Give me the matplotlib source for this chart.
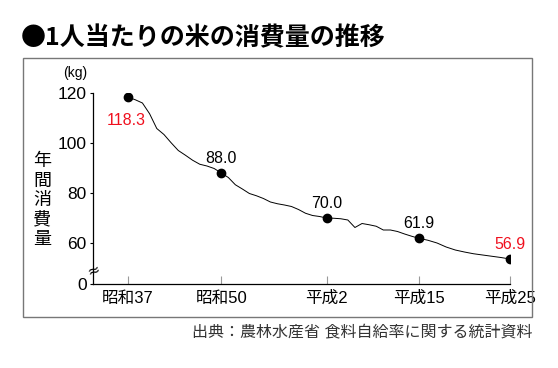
import numpy as np
import matplotlib.pyplot as plt
from matplotlib.patches import Rectangle

# 1人当たりの米の年間消費量 (kg)
years = np.arange(1962, 2014)
rice_kg = [118.3, 117.3, 116.0, 111.7, 105.8, 103.4, 100.1, 97.0, 95.1, 93.1,
           91.5, 90.8, 89.8, 88.0, 86.2, 83.3, 81.6, 79.8, 78.9, 77.8,
           76.4, 75.7, 75.2, 74.6, 73.4, 71.9, 71.0, 70.6, 70.0, 69.9,
           69.7, 69.2, 66.2, 67.8, 67.3, 66.7, 65.2, 65.2, 64.6, 63.6,
           62.7, 61.9, 61.1, 60.0, 58.4, 57.2, 56.4, 55.7, 55.2, 54.7,
           54.2, 53.6]

key_years = [1962, 1975, 1990, 2003, 2013]
key_labels = ['昭和37', '昭和50', '平成2', '平成15', '平成25']
key_text = ['118.3', '88.0', '70.0', '61.9', '56.9']
key_red = [True, False, False, False, True]
# the original axis is not evenly spaced in years
key_pos = [0, 93, 198, 290, 381]

y_ticks = [60, 80, 100, 120]
y_zero = 43.6  # where the broken axis shows "0"

jp = ['Liberation Sans', 'Noto Sans CJK JP']
plt.rcParams['font.family'] = jp

fig = plt.figure(figsize=(5.58, 3.68), dpi=100)
ax = fig.add_axes([93 / 558, 1 - 284 / 368, (510 - 93) / 558, (284 - 93) / 368])

x = np.interp(years, key_years, key_pos)
ax.plot(x, rice_kg, color='black', lw=0.7)

for yr, txt, red in zip(key_years, key_text, key_red):
    xi = np.interp(yr, key_years, key_pos)
    yi = rice_kg[list(years).index(yr)]
    ax.plot(xi, yi, 'o', color='black', ms=6)
    if yr == key_years[0]:
        off = (-1.5, -17)
    else:
        off = (0, 10.5)
    ax.annotate(txt, (xi, yi), xytext=off, textcoords='offset points',
                ha='center', va='center', fontsize=11.5,
                color='#f0101e' if red else 'black')

ax.set_xlim(-35, 381)
ax.set_ylim(y_zero, 120)
ax.set_xticks(key_pos)
ax.set_xticklabels(key_labels, fontsize=12)
ax.set_yticks([y_zero] + y_ticks)
ax.set_yticklabels(['0'] + [str(v) for v in y_ticks], fontsize=12.5)
ax.tick_params(axis='x', direction='in', length=6, width=0.8, color='#999999', pad=5)
ax.tick_params(axis='y', direction='out', length=2.5, width=0.8, pad=2)
for s in ['top', 'right']:
    ax.spines[s].set_visible(False)
for s in ['left', 'bottom']:
    ax.spines[s].set_linewidth(0.9)

# axis break mark
ax.text(-35, 49.2, '≈', ha='center', va='center', fontsize=11, rotation=20,
        transform=ax.transData, clip_on=False, family=['DejaVu Sans'])

fig.text(63 / 558, 1 - 73 / 368, '(kg)', fontsize=10, ha='left', va='center')
fig.text(42 / 558, 1 - 200 / 368, '\n'.join('年間消費量'), fontsize=13,
         ha='center', va='center', linespacing=1.1, family=['Noto Sans CJK JP'])

fig.text(21 / 558, 1 - 38 / 368, '●1人当たりの米の消費量の推移', fontsize=18,
         fontweight='bold', ha='left', va='center', family=['Noto Sans CJK JP'])

fig.patches.append(Rectangle((22.5 / 558, 1 - 316.5 / 368), (532 - 22.5) / 558,
                             (316.5 - 57.5) / 368, transform=fig.transFigure,
                             fill=False, edgecolor='#777777', lw=1))

fig.text(533 / 558, 1 - 333 / 368, '出典：農林水産省 食料自給率に関する統計資料',
         fontsize=11.5, ha='right', va='center', color='#333333')

fig.savefig('out.png', dpi=100)
